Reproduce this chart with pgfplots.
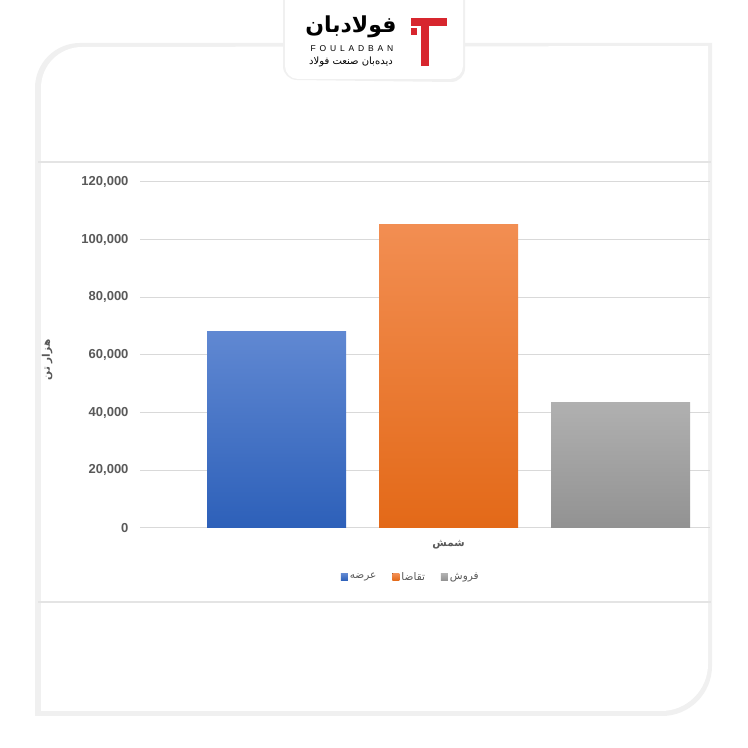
\documentclass[border=0pt]{standalone}
\usepackage{fontspec}
\usepackage{pgfplots}
\pgfplotsset{compat=1.18}
\setmainfont{Liberation Sans}
\newfontfamily\farsi[Script=Arabic]{DejaVu Sans}
\newfontfamily\spaced[LetterSpace=45]{Liberation Sans}
\TeXXeTstate=1

\definecolor{blueTop}{HTML}{6088D2}
\definecolor{blueBot}{HTML}{2D60B9}
\definecolor{orgTop}{HTML}{F28E52}
\definecolor{orgBot}{HTML}{E36918}
\definecolor{grayTop}{HTML}{B0B0B0}
\definecolor{grayBot}{HTML}{929292}
\definecolor{txt}{HTML}{595959}
\definecolor{gridc}{HTML}{D9D9D9}
\definecolor{logored}{HTML}{D7262E}

\begin{document}
\begin{tikzpicture}[x=1pt,y=1pt]
\useasboundingbox (0,0) rectangle (748,748);
\fill[white] (0,0) rectangle (748,748);

% card with soft shadow
\fill[black!6] (35,32) -- (35,660) arc[start angle=180,end angle=90,radius=45] -- (712,705) -- (712,82) arc[start angle=0,end angle=-90,radius=50] -- cycle;
\fill[white] (41,37) -- (41,660) arc[start angle=180,end angle=90,radius=41] -- (708,702) -- (708,84) arc[start angle=0,end angle=-90,radius=47] -- cycle;
\draw[gridc!70, line width=2pt] (38,586) -- (711,586);
\draw[gridc!70, line width=2pt] (38,146) -- (711,146);

% logo box
\fill[black!6] (283,748) -- (283,682) arc[start angle=180,end angle=270,radius=14] -- (451,666) arc[start angle=270,end angle=360,radius=14] -- (465,748) -- cycle;
\fill[white] (285,748) -- (285,682) arc[start angle=180,end angle=270,radius=13] -- (450,669) arc[start angle=270,end angle=360,radius=13] -- (463,748) -- cycle;
\fill[logored] (411,722) rectangle (447,730);
\fill[logored] (421,682) rectangle (429,730);
\fill[logored] (411,713) rectangle (417,720);
\node[font=\farsi\bfseries\fontsize{22}{24}\selectfont, text=black] at (351,721) {\beginR فولادبان\endR};
\node[font=\spaced\fontsize{8.5}{10}\selectfont, text=black] at (352,699) {FOULADBAN};
\node[font=\farsi\fontsize{10}{12}\selectfont, text=black] at (351,686) {\beginR دیده‌بان صنعت فولاد\endR};

\coordinate (origin) at (140,220);
\begin{axis}[
    at={(origin)}, anchor=south west,
    scale only axis, width=570pt, height=346pt,
    ybar,
    xmin=-1.794, xmax=1.52,
    ymin=0, ymax=120000,
    ytick={0,20000,...,120000},
    scaled y ticks=false,
    /pgf/number format/fixed,
    /pgf/number format/1000 sep={,},
    /pgf/number format/assume math mode=true,
    yticklabel style={font=\bfseries\fontsize{13}{15}\selectfont, text=txt, xshift=-8pt},
    xtick={0}, xticklabels={\farsi\bfseries\beginR شمش\endR},
    xticklabel style={font=\fontsize{10.5}{12}\selectfont, text=txt, yshift=-9pt},
    major tick length=0pt,
    axis line style={draw=none},
    ymajorgrids, grid style={gridc, line width=1pt},
    ylabel={\farsi\bfseries\beginR هزار تن\endR},
    ylabel style={font=\fontsize{10.5}{12}\selectfont, text=txt, at={(axis description cs:-0.163,0.486)}, anchor=center},
    legend columns=3,
    legend style={draw=none, fill=none, font=\farsi\fontsize{10.5}{12}\selectfont, text=txt,
        at={(axis description cs:0.475,-0.1416)}, anchor=center,
        /tikz/every even column/.append style={column sep=14pt}},
    legend image code/.code={\fill[#1] (0pt,-3.5pt) rectangle (7pt,3.5pt);},
]
\addplot[bar shift=0pt, bar width=139pt, draw=none, top color=blueTop, bottom color=blueBot] coordinates {(-1,68000)};
\addlegendentry{\beginR عرضه\endR}
\addplot[bar shift=0pt, bar width=139pt, draw=none, top color=orgTop, bottom color=orgBot] coordinates {(0,105200)};
\addlegendentry{\beginR تقاضا\endR}
\addplot[bar shift=0pt, bar width=139pt, draw=none, top color=grayTop, bottom color=grayBot] coordinates {(1,43400)};
\addlegendentry{\beginR فروش\endR}
\end{axis}
\end{tikzpicture}
\end{document}
